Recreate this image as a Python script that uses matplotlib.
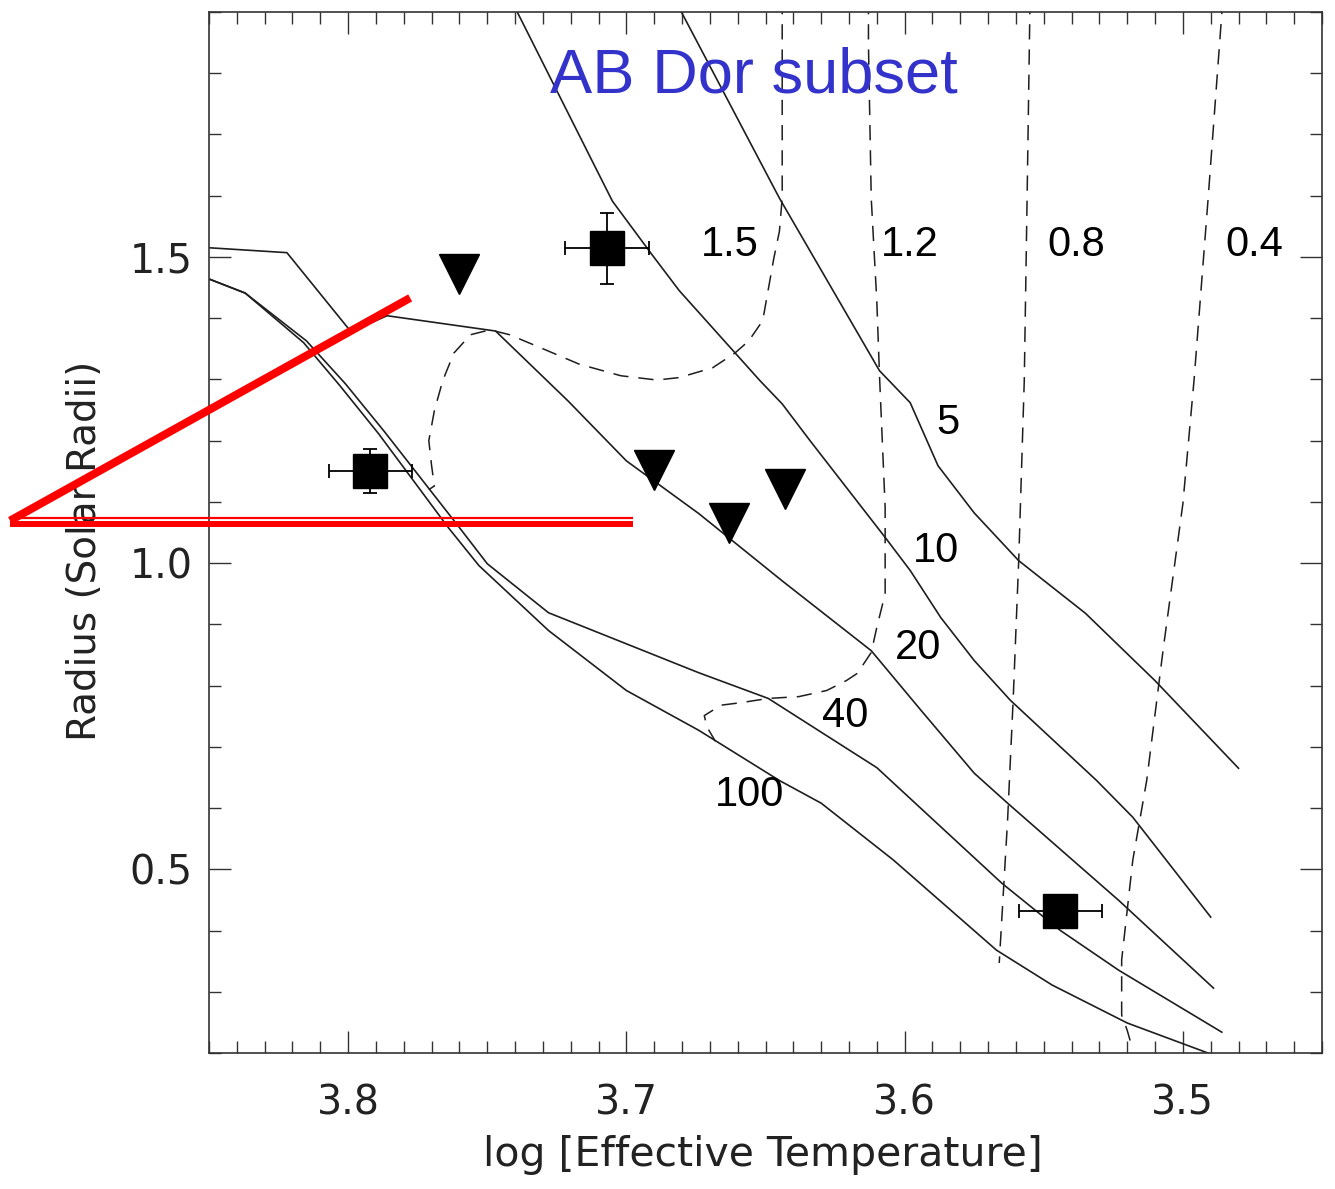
import matplotlib
matplotlib.use("Agg")
import matplotlib.pyplot as plt
from matplotlib.ticker import MultipleLocator

# isochrones (Myr): log Teff, radius (solar radii)
iso5_t = [3.684, 3.680, 3.645, 3.609, 3.598, 3.588, 3.575, 3.559, 3.535, 3.510, 3.480]
iso5_r = [1.930, 1.898, 1.596, 1.314, 1.262, 1.159, 1.082, 1.004, 0.918, 0.808, 0.665]

iso10_t = [3.743, 3.739, 3.711, 3.705, 3.691, 3.681, 3.652, 3.644, 3.634, 3.607,
           3.598, 3.587, 3.575, 3.562, 3.531, 3.518, 3.490]
iso10_r = [1.930, 1.898, 1.645, 1.591, 1.505, 1.445, 1.298, 1.260, 1.200, 1.042,
           0.988, 0.911, 0.841, 0.776, 0.645, 0.585, 0.422]

iso20_t = [3.850, 3.822, 3.799, 3.786, 3.747, 3.721, 3.700, 3.674, 3.644, 3.612,
           3.594, 3.575, 3.563, 3.523, 3.489]
iso20_r = [1.515, 1.507, 1.378, 1.404, 1.379, 1.265, 1.167, 1.081, 0.971, 0.857,
           0.759, 0.657, 0.608, 0.449, 0.306]

iso40_t = [3.850, 3.837, 3.815, 3.801, 3.787, 3.760, 3.750, 3.728, 3.674, 3.649,
           3.610, 3.565, 3.544, 3.523, 3.486]
iso40_r = [1.464, 1.441, 1.363, 1.293, 1.215, 1.058, 0.999, 0.919, 0.821, 0.779,
           0.666, 0.477, 0.400, 0.335, 0.234]

iso100_t = [3.850, 3.837, 3.816, 3.803, 3.789, 3.764, 3.753, 3.728, 3.700, 3.674,
            3.645, 3.630, 3.604, 3.567, 3.547, 3.520, 3.491, 3.485]
iso100_r = [1.464, 1.441, 1.360, 1.290, 1.211, 1.058, 0.996, 0.890, 0.792, 0.727,
            0.645, 0.608, 0.515, 0.368, 0.311, 0.249, 0.200, 0.190]

iso_labels = ['5', '10', '20', '40', '100']
iso_label_t = [3.5844, 3.5887, 3.5952, 3.6214, 3.6556]
iso_label_r = [1.229, 1.019, 0.861, 0.751, 0.621]

# mass tracks (solar masses)
m15_t = [3.644, 3.644, 3.644, 3.645, 3.647, 3.651, 3.656, 3.661, 3.669, 3.681, 3.689,
         3.702, 3.717, 3.731, 3.742, 3.749, 3.756, 3.762, 3.766, 3.769, 3.771,
         3.770, 3.769, 3.771]
m15_r = [1.930, 1.898, 1.596, 1.542, 1.498, 1.396, 1.363, 1.343, 1.319, 1.303, 1.299,
         1.306, 1.325, 1.352, 1.373, 1.381, 1.373, 1.343, 1.298, 1.249, 1.200,
         1.159, 1.126, 1.120]

m12_t = [3.613, 3.613, 3.612, 3.610, 3.609, 3.607, 3.607, 3.607, 3.610, 3.612, 3.617,
         3.621, 3.628, 3.638, 3.649, 3.659, 3.666, 3.672, 3.671, 3.668]
m12_r = [1.930, 1.847, 1.596, 1.428, 1.303, 1.091, 1.042, 0.950, 0.895, 0.854, 0.820,
         0.808, 0.792, 0.782, 0.779, 0.772, 0.768, 0.751, 0.732, 0.709]

m08_t = [3.555, 3.555, 3.556, 3.557, 3.559, 3.561, 3.563, 3.566]
m08_r = [1.930, 1.898, 1.591, 1.298, 1.004, 0.776, 0.580, 0.347]

m04_t = [3.485, 3.486, 3.491, 3.496, 3.500, 3.507, 3.513, 3.518, 3.522, 3.522, 3.520, 3.518]
m04_r = [1.930, 1.898, 1.591, 1.298, 1.097, 0.862, 0.645, 0.515, 0.352, 0.262, 0.237, 0.205]

mass_labels = ['1.5', '1.2', '0.8', '0.4']
mass_label_t = [3.6627, 3.598, 3.5384, 3.4745]
mass_label_r = 1.5196

# AB Dor members
sq_t = [3.707, 3.792, 3.544]
sq_r = [1.514, 1.151, 0.432]
sq_terr = [0.015, 0.015, 0.015]
sq_rerr = [0.058, 0.036, 0.0]

tri_t = [3.760, 3.690, 3.663, 3.643]
tri_r = [1.472, 1.152, 1.065, 1.121]

# red annotation marks
red_apex = (3.9215, 1.0693)
red_diag_end = (3.7777, 1.4331)
red_hline_end = 3.6976
red_hline_thin = 1.0742
red_hline_thick = 1.0644

fig = plt.figure(figsize=(13.35, 11.89), dpi=100)
ax = fig.add_axes([209/1335, 1 - 1053/1189, 1113/1335, 1041/1189])

line_col = '#1e1e1e'
for t, r in [(iso5_t, iso5_r), (iso10_t, iso10_r), (iso20_t, iso20_r),
             (iso40_t, iso40_r), (iso100_t, iso100_r)]:
    ax.plot(t, r, color=line_col, lw=1.2, zorder=2)

for t, r in [(m15_t, m15_r), (m12_t, m12_r), (m08_t, m08_r), (m04_t, m04_r)]:
    ax.plot(t, r, color=line_col, lw=1.1, linestyle=(0, (10, 6.5)), zorder=2)

for lab, t, r in zip(iso_labels, iso_label_t, iso_label_r):
    ax.text(t, r, lab, fontsize=30, family='Liberation Sans', ha='center', va='center',
            color='black', zorder=4)
for lab, t in zip(mass_labels, mass_label_t):
    ax.text(t, mass_label_r, lab, fontsize=30, family='Liberation Sans', ha='center',
            va='center', color='black', zorder=4)

ax.errorbar(sq_t, sq_r, xerr=sq_terr, yerr=sq_rerr, fmt='none', ecolor='black',
            elinewidth=1.3, capsize=5, capthick=1.3, zorder=3)
ax.plot(sq_t, sq_r, 's', color='black', ms=25, zorder=4)
ax.plot(tri_t, tri_r, 'v', color='black', ms=29, zorder=4)

ax.text(3.654, 1.795, 'AB Dor subset', fontsize=45.5, family='Liberation Sans',
        color='#3333cc', ha='center', va='center', zorder=5)

# red marks
ax.plot([red_apex[0], red_diag_end[0]], [red_apex[1], red_diag_end[1]],
        color='red', lw=5.8, solid_capstyle='butt', clip_on=False, zorder=6)
ax.plot([red_apex[0], red_hline_end], [red_hline_thin, red_hline_thin],
        color='red', lw=1.6, solid_capstyle='butt', clip_on=False, zorder=6)
ax.plot([red_apex[0], red_hline_end], [red_hline_thick, red_hline_thick],
        color='red', lw=4.3, solid_capstyle='butt', clip_on=False, zorder=6)

ax.set_xlim(3.85, 3.45)
ax.set_ylim(0.2, 1.9)
ax.set_xticks([3.8, 3.7, 3.6, 3.5])
ax.set_yticks([0.5, 1.0, 1.5])
ax.xaxis.set_minor_locator(MultipleLocator(0.01))
ax.yaxis.set_minor_locator(MultipleLocator(0.1))
ax.tick_params(which='both', direction='in', top=True, right=True,
               colors='#333333', labelcolor='#222222', width=1.0)
ax.tick_params(which='major', length=16, labelsize=28.5)
ax.tick_params(which='minor', length=8.6)
ax.tick_params(axis='x', which='major', pad=22)
ax.tick_params(axis='y', which='major', pad=12)
for sp in ax.spines.values():
    sp.set_color('#333333')
    sp.set_linewidth(1.2)

ax.set_xlabel('log [Effective Temperature]', fontsize=29.5, color='#222222')
ax.set_ylabel('Radius (Solar Radii)', fontsize=28, color='#222222')
ax.xaxis.set_label_coords(0.4978, -0.079)
ax.yaxis.set_label_coords(-0.094, 0.482)

fig.savefig('out.png', dpi=100)
